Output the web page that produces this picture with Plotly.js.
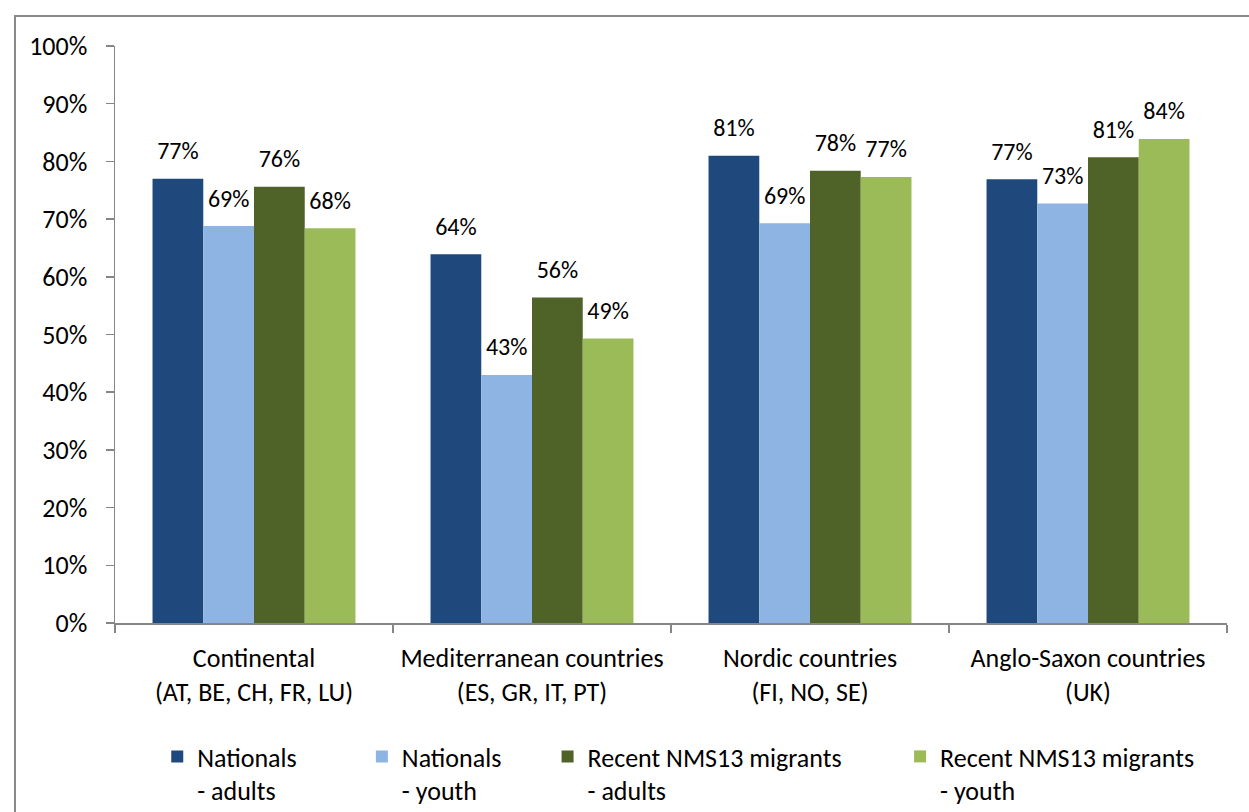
<!DOCTYPE html>
<html>
<head>
<meta charset="utf-8">
<script src="https://cdn.plot.ly/plotly-3.0.1.min.js"></script>
<style>
html,body{margin:0;padding:0;background:#fff;overflow:hidden;}
#frame{position:absolute;left:14px;top:15px;width:1300px;height:900px;border:2px solid #8a8a8a;box-sizing:border-box;pointer-events:none;z-index:5;}
#chart{position:absolute;left:0;top:0;width:1249px;height:812px;}
</style>
</head>
<body>
<div id="frame"></div>
<div id="chart"></div>
<script>
const categories = [
  "Continental<br>(AT, BE, CH, FR, LU)",
  "Mediterranean countries<br>(ES, GR, IT, PT)",
  "Nordic countries<br>(FI, NO, SE)",
  "Anglo-Saxon countries<br>(UK)"
];
const seriesNames = [
  "Nationals<br>- adults",
  "Nationals<br>- youth",
  "Recent NMS13 migrants<br>- adults",
  "Recent NMS13 migrants<br>- youth"
];
const nationalsAdults = [77.0, 63.9, 81.0, 76.9];
const nationalsYouth = [68.8, 43.0, 69.3, 72.7];
const nmsAdults = [75.6, 56.4, 78.4, 80.7];
const nmsYouth = [68.4, 49.3, 77.3, 83.9];
const yTickVals = [0, 10, 20, 30, 40, 50, 60, 70, 80, 90, 100];
const yTickText = ["0%", "10%", "20%", "30%", "40%", "50%", "60%", "70%", "80%", "90%", "100%"];

const colors = ["#1F497D", "#8EB4E3", "#4F6228", "#9BBB59"];
const allValues = [nationalsAdults, nationalsYouth, nmsAdults, nmsYouth];
const legendIds = ["legend", "legend2", "legend3", "legend4"];
const FONT = "Carlito, Calibri, Lato, sans-serif";
const GAP = 0.27;

const barTraces = allValues.map((vals, i) => ({
  type: "bar",
  name: seriesNames[i],
  x: categories,
  y: vals,
  offsetgroup: String(i + 1),
  marker: {color: colors[i]},
  hoverinfo: "skip",
  legend: legendIds[i]
}));

const labelTraces = allValues.map((vals, i) => ({
  type: "scatter",
  mode: "markers+text",
  x: categories,
  y: vals,
  offsetgroup: String(i + 1),
  marker: {size: 20, opacity: 0, color: colors[i]},
  texttemplate: "%{y:.0f}%",
  textposition: "top center",
  textfont: {family: FONT, size: 24, color: "#000"},
  cliponaxis: false,
  showlegend: false,
  hoverinfo: "skip"
}));

const legendBase = {
  orientation: "h",
  yref: "container",
  yanchor: "top",
  y: 0.0973,
  xanchor: "left",
  valign: "top",
  font: {family: FONT, size: 26, color: "#000"},
  bgcolor: "rgba(0,0,0,0)"
};
const legendX = [0.038, 0.222, 0.389, 0.706];

const layout = {
  width: 1249,
  height: 812,
  margin: {l: 115, r: 22, t: 46, b: 189},
  paper_bgcolor: "rgba(0,0,0,0)",
  plot_bgcolor: "rgba(0,0,0,0)",
  font: {family: FONT, size: 26, color: "#000"},
  barmode: "group",
  bargap: GAP,
  bargroupgap: 0,
  scattermode: "group",
  scattergap: GAP,
  showlegend: true,
  xaxis: {
    type: "category",
    automargin: false,
    showline: true,
    linecolor: "#868686",
    linewidth: 1.5,
    ticks: "outside",
    tickson: "boundaries",
    ticklen: 8,
    tickcolor: "#868686",
    tickwidth: 1.5,
    showgrid: false,
    zeroline: false,
    tickfont: {family: FONT, size: 26, color: "#000"},
    ticklabelstandoff: 11
  },
  yaxis: {
    range: [0, 100],
    automargin: false,
    tickmode: "array",
    tickvals: yTickVals,
    ticktext: yTickText,
    showline: true,
    linecolor: "#868686",
    linewidth: 1.5,
    ticks: "outside",
    ticklen: 8,
    tickcolor: "#868686",
    tickwidth: 1.5,
    showgrid: false,
    zeroline: false,
    tickfont: {family: FONT, size: 26, color: "#000"},
    ticklabelstandoff: 13
  }
};
legendIds.forEach((id, i) => {
  layout[id] = Object.assign({}, legendBase, {x: legendX[i]});
});

Plotly.newPlot("chart", barTraces.concat(labelTraces), layout, {displayModeBar: false, staticPlot: true});
</script>
</body>
</html>
